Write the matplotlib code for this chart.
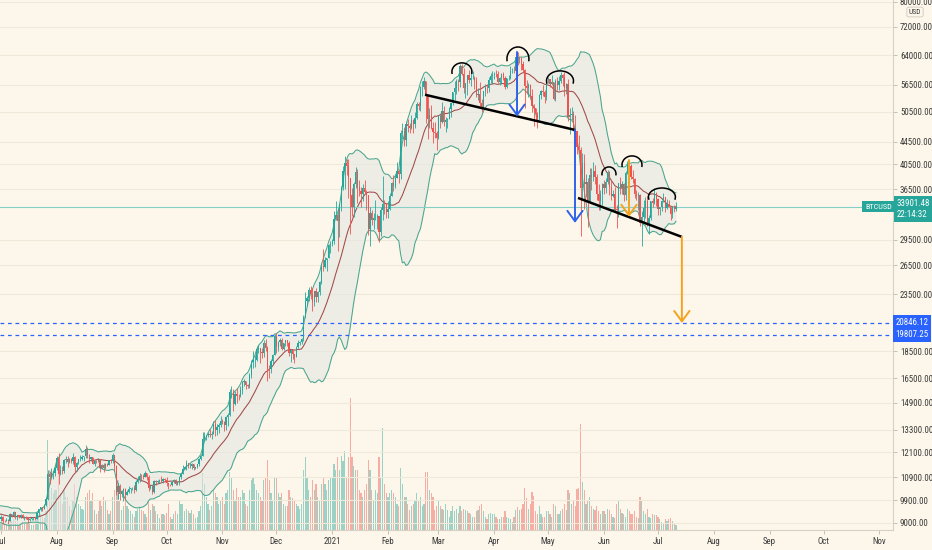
import numpy as np
import pandas as pd
import matplotlib
matplotlib.use('Agg')
import matplotlib.pyplot as plt
import matplotlib.transforms as mtransforms
from matplotlib import font_manager as fm
from matplotlib.patches import Arc
from matplotlib.ticker import FixedLocator, NullLocator, FuncFormatter

# ---------------- data (BTCUSD daily) ----------------
start_date = '2020-06-01'
first_open = 9450

close = [
    10200, 9520, 9660, 9800, 9650, 9760, 9770, 9780, 9770, 9880, 9320, 9480, 9470, 9390, 9430, 9520, 9460, 9380, 9300, 9360, 9300, 9650, 9620, 9290, 9240, 9160, 9010, 9110, 9190, 9140,
    9230, 9090, 9070, 9130, 9070, 9340, 9250, 9430, 9230, 9290, 9240, 9300, 9240, 9240, 9190, 9130, 9150, 9170, 9210, 9160, 9390, 9540, 9610, 9550, 9710, 9930, 11030, 10910, 11100, 11110, 11350,
    11800, 11070, 11230, 11190, 11740, 11760, 11600, 11750, 11680, 11880, 11400, 11580, 11770, 11770, 11870, 11910, 12290, 11960, 11760, 11860, 11520, 11680, 11650, 11760, 11330, 11470, 11320, 11540, 11480, 11710, 11680,
    11970, 11410, 10230, 10510, 10170, 10280, 10370, 10130, 10240, 10370, 10400, 10440, 10330, 10680, 10790, 10950, 10940, 10930, 11080, 10920, 10420, 10530, 10240, 10740, 10690, 10730, 10770, 10710, 10840, 10780,
    10620, 10570, 10550, 10670, 10790, 10600, 10670, 10920, 11060, 11300, 11380, 11550, 11430, 11430, 11500, 11330, 11370, 11500, 11750, 11920, 12820, 12970, 13030, 13080, 13030, 13080, 13650, 13270, 13460, 13560, 13800,
    13740, 13550, 14020, 14150, 15590, 15590, 14840, 15480, 15330, 15300, 15700, 16280, 16320, 16070, 15960, 16720, 17650, 17800, 17820, 18680, 18720, 18420, 18370, 19160, 18720, 17150, 17140, 17720, 18180, 19700,
    18790, 19220, 19420, 18650, 19150, 19360, 19170, 18320, 18550, 18260, 18040, 18800, 19140, 19250, 19440, 21310, 22800, 23140, 23870, 23480, 22750, 23830, 23240, 23730, 24710, 26440, 26280, 27080, 27360, 28840, 29000,
    29370, 32130, 32780, 31970, 34000, 36820, 39370, 40670, 40240, 38240, 35540, 33910, 37320, 39190, 36830, 36180, 35790, 36630, 36070, 35550, 30820, 33010, 32080, 32260, 32370, 32570, 30430, 33470, 34320, 34270, 33110,
    33540, 35510, 37470, 36930, 38300, 39320, 38900, 46200, 46480, 44920, 47910, 47500, 47100, 48720, 47950, 49140, 52150, 51680, 55890, 55890, 57410, 54100, 48890, 49680, 47060, 46340, 46190, 45140,
    49630, 48380, 50540, 48380, 48760, 48880, 50970, 52380, 54880, 55860, 57330, 57200, 61190, 59000, 55640, 56950, 58920, 57650, 58030, 58100, 57350, 54080, 54340, 52300, 51290, 55030, 55850, 55780, 57630, 58730, 58920,
    59060, 59000, 57160, 58190, 59130, 58060, 56000, 58090, 58090, 59800, 59890, 59800, 63500, 63110, 63310, 61570, 60110, 56270, 55710, 56470, 53830, 51700, 51160, 50100, 49120, 54080, 55040, 54840, 53580, 57750,
    57830, 56630, 57200, 53330, 57520, 56460, 57340, 58800, 58230, 55860, 56680, 49400, 49720, 49920, 46760, 46460, 43540, 42900, 36700, 40780, 37300, 37540, 34700, 38710, 38400, 39290, 38440, 35690, 34650, 35680, 37330,
    36690, 37570, 39190, 36880, 35520, 35800, 33570, 33380, 37390, 36700, 37330, 35550, 39100, 40520, 40140, 38350, 38050, 35790, 35480, 35600, 31680, 32510, 33690, 34660, 31590, 32280, 34660, 34470, 35870, 35040,
    33540, 33830, 34670, 35290, 33690, 34230, 33860, 32880, 33810, 33520, 33901.48,
]

high = [
    10400, 10230, 9690, 9880, 9850, 9800, 9800, 9800, 9880, 9990, 9940, 9560, 9490, 9480, 9530, 9580, 9550, 9480, 9420, 9390, 9420, 9690, 9680, 9660, 9320, 9290, 9200, 9190, 9230, 9200,
    9290, 9260, 9130, 9200, 9140, 9370, 9360, 9450, 9440, 9310, 9300, 9340, 9340, 9280, 9270, 9210, 9180, 9200, 9230, 9220, 9420, 9550, 9640, 9630, 9740, 10030, 11250, 11200, 11340, 11170, 11450,
    11900, 12070, 11480, 11420, 11780, 11900, 11900, 11800, 11800, 12080, 11940, 11620, 11790, 11980, 11970, 11930, 12470, 12350, 12020, 11880, 11880, 11700, 11710, 11810, 11780, 11520, 11590, 11550, 11570, 11710, 11770,
    12070, 11970, 11460, 10630, 10580, 10340, 10400, 10440, 10350, 10500, 10410, 10470, 10550, 10790, 10940, 11080, 11040, 11030, 11180, 11080, 10990, 10570, 10540, 10770, 10780, 10770, 10800, 10950, 10860, 10850,
    10910, 10650, 10600, 10690, 10800, 10800, 10690, 10950, 11110, 11490, 11420, 11720, 11560, 11550, 11550, 11540, 11400, 11520, 11820, 12000, 13200, 13180, 13030, 13170, 13350, 13240, 13790, 13850, 13640, 13660, 14100,
    13900, 13820, 14070, 14240, 15760, 15960, 15770, 15660, 15850, 15450, 15950, 16330, 16480, 16330, 16130, 16880, 17850, 18480, 18180, 18810, 18960, 18750, 18770, 19420, 19480, 18900, 17450, 17880, 18280, 19880,
    19920, 19310, 19560, 19510, 19170, 19400, 19400, 19280, 18640, 18570, 18280, 18930, 19410, 19330, 19560, 21540, 23750, 23270, 24170, 24300, 24100, 23840, 24100, 23790, 24790, 26720, 28420, 27410, 27370, 28990, 29300,
    29600, 33300, 34780, 33600, 34440, 36940, 40180, 41950, 41350, 41350, 38260, 36600, 37600, 40100, 39740, 37950, 36800, 37300, 37850, 36400, 35600, 33820, 33450, 32940, 34880, 32930, 32600, 33780, 38530, 34900, 34300,
    34700, 35970, 37650, 38670, 38700, 40950, 39630, 46750, 48200, 47300, 48630, 48900, 48100, 49700, 49000, 50500, 52600, 52500, 56300, 57500, 58300, 57500, 54200, 51300, 52000, 48300, 48300, 46600,
    49770, 50100, 52600, 51700, 49400, 49200, 51400, 52400, 54900, 57400, 58000, 57900, 61700, 61600, 60600, 56900, 58900, 60000, 59400, 59900, 58600, 58400, 55800, 57200, 53200, 55100, 56600, 56600, 58400, 59400, 59800,
    59500, 60100, 59800, 58500, 59300, 59500, 58600, 58200, 58900, 61200, 60700, 61200, 63800, 64900, 63800, 63600, 62500, 60400, 57600, 57000, 56800, 55500, 52100, 51200, 50500, 54300, 55400, 56400, 55200, 57900,
    58400, 57900, 58900, 57200, 57900, 58300, 58600, 59500, 59200, 59500, 56900, 58000, 51300, 51500, 50600, 49700, 46600, 45800, 43500, 42400, 42200, 38800, 38300, 39800, 39800, 40800, 40400, 38800, 37300, 36400, 37500,
    37900, 38200, 39500, 39300, 37900, 36400, 36800, 34100, 37500, 38400, 37700, 37400, 39300, 41000, 41300, 40500, 39500, 38200, 36400, 36100, 35700, 33300, 34800, 35300, 35500, 32700, 34700, 35200, 36600, 36000,
    35100, 33900, 34900, 35900, 35300, 35000, 34900, 33900, 34000, 34200, 34600,
]

low = [
    9420, 9270, 9390, 9530, 9590, 9610, 9380, 9640, 9570, 9710, 9080, 9250, 9340, 9250, 8980, 9400, 9280, 9260, 9210, 9200, 9270, 9280, 9570, 9200, 9000, 9040, 8850, 8950, 9020, 9080,
    9090, 8950, 9040, 9060, 8950, 9060, 9210, 9240, 9150, 9120, 9200, 9170, 9200, 9120, 9160, 9010, 9090, 9130, 9120, 9130, 9150, 9280, 9470, 9480, 9540, 9650, 9920, 10600, 10860, 10840, 10980,
    11220, 10600, 11000, 11050, 11100, 11580, 11400, 11550, 11570, 11530, 11150, 11170, 11510, 11690, 11700, 11690, 11830, 11820, 11570, 11680, 11510, 11430, 11560, 11600, 11140, 11270, 11160, 11290, 11440, 11460, 11590,
    11550, 11200, 10100, 9970, 9890, 10020, 9880, 9900, 10100, 10200, 10200, 10330, 10220, 10270, 10640, 10700, 10750, 10830, 10890, 10780, 10300, 10360, 10140, 10200, 10560, 10650, 10630, 10680, 10650, 10700,
    10520, 10380, 10500, 10520, 10630, 10540, 10570, 10540, 10820, 11050, 11280, 11220, 11330, 11310, 11300, 11220, 11300, 11350, 11420, 11700, 11900, 12700, 12750, 12900, 12900, 12800, 13050, 12950, 12990, 13140, 13430,
    13620, 13230, 13290, 13530, 14100, 15200, 14420, 14740, 14850, 15100, 15280, 15450, 15980, 15800, 15860, 15880, 16560, 17200, 17340, 17750, 18370, 17620, 18000, 18030, 18530, 16330, 16500, 16900, 17550, 18170,
    18330, 18500, 18930, 18580, 18550, 18900, 18900, 18150, 17650, 17930, 17570, 18020, 18720, 19000, 19060, 19300, 21250, 22350, 22800, 23050, 21900, 22380, 22700, 22720, 23450, 24520, 25900, 26260, 25900, 27330, 27860,
    28800, 28950, 32000, 28130, 29900, 33300, 36340, 36570, 38730, 35110, 30260, 32530, 32400, 36700, 34400, 35400, 33850, 34730, 35850, 33400, 30070, 28800, 31400, 30850, 32080, 30840, 29240, 30000, 32000, 32850, 32300,
    32300, 33420, 35380, 36200, 36630, 38200, 37400, 37990, 45000, 43800, 43780, 46300, 46200, 47000, 46200, 47100, 48950, 50900, 50700, 53900, 55500, 48100, 45000, 47100, 46900, 44200, 45200, 43000,
    45050, 47200, 48200, 47600, 46300, 47100, 48900, 49300, 51900, 53100, 54300, 55100, 56100, 58900, 54600, 53500, 54100, 57000, 56300, 57800, 55500, 53700, 53000, 51700, 50400, 51300, 53900, 54700, 54900, 57000, 56800,
    57900, 58500, 57000, 56500, 56800, 57700, 55500, 55800, 57700, 57900, 59300, 59400, 59800, 61300, 62000, 60000, 59700, 51300, 54300, 53600, 53700, 50500, 47500, 48800, 47100, 48800, 53300, 53900, 52400, 53100,
    57000, 56000, 56500, 53100, 52900, 55200, 55400, 56900, 56300, 54000, 54400, 48600, 46000, 48800, 46600, 43900, 42200, 42300, 30000, 35000, 33500, 35300, 31100, 34500, 36400, 37800, 37200, 34800, 33400, 33400, 34200,
    35700, 35900, 37200, 35600, 34800, 35300, 33400, 31000, 32400, 35800, 35700, 34700, 34800, 38800, 39500, 38100, 37400, 35200, 34900, 33400, 31300, 28800, 31700, 32300, 31300, 30200, 32000, 33900, 34300, 34000,
    32700, 32700, 33300, 34500, 33200, 33600, 33800, 32100, 32300, 33100, 33300,
]

volume = [
    10, 14, 9, 8, 7, 6, 5, 6, 7, 9, 14, 9, 6, 6, 10, 8, 7, 7, 7, 5, 5, 9, 8, 9, 8, 8, 7, 6, 6, 7,
    6, 7, 5, 4, 4, 9, 7, 8, 7, 6, 4, 4, 6, 6, 6, 6, 5, 4, 4, 5, 10, 11, 12, 10, 9, 14, 68, 45, 32, 28, 30,
    30, 45, 28, 20, 30, 25, 25, 18, 15, 22, 35, 25, 20, 18, 16, 15, 25, 28, 30, 22, 28, 15, 12, 14, 22, 18, 25, 22, 15, 12, 14,
    25, 30, 40, 38, 22, 15, 18, 22, 18, 16, 14, 12, 10, 14, 16, 18, 15, 14, 12, 10, 22, 15, 20, 18, 14, 12, 9, 12, 12, 11,
    13, 20, 10, 8, 12, 14, 12, 22, 20, 20, 14, 16, 14, 13, 15, 12, 9, 10, 14, 18, 43, 35, 25, 20, 15, 18, 30, 28, 25, 20, 22,
    25, 20, 28, 30, 44, 40, 30, 22, 32, 25, 25, 30, 28, 20, 18, 30, 38, 40, 35, 30, 28, 25, 22, 38, 40, 53, 38, 28, 22, 40,
    40, 28, 25, 28, 20, 18, 18, 30, 25, 24, 22, 20, 18, 16, 20, 45, 55, 40, 30, 25, 38, 30, 35, 25, 22, 35, 40, 35, 30, 38, 40,
    40, 50, 45, 55, 45, 56, 52, 60, 40, 55, 100, 55, 48, 45, 45, 30, 28, 25, 30, 35, 53, 45, 30, 22, 30, 28, 55, 40, 77, 35, 28,
    25, 28, 30, 28, 25, 20, 18, 47, 35, 25, 25, 20, 15, 18, 20, 22, 28, 22, 25, 18, 20, 44, 44, 30, 28, 25, 15, 18,
    22, 18, 16, 15, 20, 15, 10, 14, 18, 14, 16, 13, 18, 14, 16, 15, 14, 13, 12, 10, 10, 14, 15, 18, 20, 14, 10, 8, 12, 13, 12,
    12, 10, 8, 8, 10, 10, 14, 10, 9, 8, 6, 10, 15, 17, 15, 16, 20, 32, 24, 16, 20, 29, 26, 14, 12, 18, 12, 10, 10, 14,
    14, 12, 10, 20, 18, 12, 12, 14, 16, 20, 15, 30, 28, 20, 22, 18, 31, 32, 80, 36, 30, 20, 22, 25, 18, 16, 15, 18, 14, 12, 14,
    14, 12, 16, 15, 12, 10, 9, 20, 23, 16, 13, 12, 10, 16, 14, 12, 12, 14, 10, 9, 25, 22, 14, 12, 16, 10, 9, 12, 11, 11,
    10, 8, 6, 5, 8, 7, 8, 9, 7, 5, 4,
]

price_ticks = [80000, 72000, 64000, 56500, 50500, 44500, 40500, 36500, 29500, 26500,
               23500, 18500, 16500, 14900, 13300, 12100, 10900, 9900, 9000]
month_starts = ['2020-07-01', '2020-08-01', '2020-09-01', '2020-10-01', '2020-11-01', '2020-12-01',
                '2021-01-01', '2021-02-01', '2021-03-01', '2021-04-01', '2021-05-01', '2021-06-01',
                '2021-07-01', '2021-08-01', '2021-09-01', '2021-10-01', '2021-11-01']
month_labels = ['Jul', 'Aug', 'Sep', 'Oct', 'Nov', 'Dec', '2021', 'Feb', 'Mar', 'Apr', 'May', 'Jun',
                'Jul', 'Aug', 'Sep', 'Oct', 'Nov']

last_price = 33901.48
countdown = '22:14:32'
level_prices = [20846.12, 19807.25]

# drawn annotations
neck1_dates = ['2021-02-21 14:00', '2021-05-15 22:00']
neck1_prices = [54200, 46760]
neck2_dates = ['2021-05-17 14:00', '2021-07-14 07:00']
neck2_prices = [35160, 29860]
blue_arrow_dates = ['2021-04-13 17:00', '2021-05-15 22:00']
blue_arrow_from = [64840, 46760]
blue_arrow_to = [49460, 31670]
orange_arrow_dates = ['2021-06-14 22:00', '2021-07-14 07:00']
orange_arrow_from = [41220, 29860]
orange_arrow_to = [32480, 20810]
cap_dates = ['2021-03-14 02:00', '2021-04-14 05:00', '2021-05-07 14:00',
             '2021-06-03 19:00', '2021-06-16 14:00', '2021-07-03 05:00']
cap_prices = [59650, 62960, 57440, 38880, 40380, 35300]
cap_w_px = [20, 22, 27, 14, 20, 27]
cap_h_px = [9, 12, 10, 7, 9, 9]

# ---------------- styling ----------------
BG = '#fcf7ea'
TEAL = '#26a69a'
RED = '#ef5350'
BLUE = '#2962ff'
ORANGE = '#f5a21f'
GRID = '#efe9d9'
TXT = '#3a3a3a'


def pick_font():
    entries = fm.fontManager.ttflist
    prefs = ['Liberation Sans Narrow', 'Roboto Condensed', 'DejaVu Sans Condensed',
             'Open Sans Condensed', 'Noto Sans Condensed']
    for want in prefs:
        for f in entries:
            if f.name == want and 'Bold' not in f.fname and 'Italic' not in f.fname \
                    and 'Oblique' not in f.fname:
                return f.fname
    for f in entries:
        fn = f.fname
        if ('Condensed' in fn or 'Narrow' in fn) and 'Bold' not in fn and 'Italic' not in fn \
                and 'Oblique' not in fn and 'Light' not in fn and 'Semi' not in fn:
            return fn
    return None


narrow = pick_font()
if narrow:
    FS = 6.4
    def fp(size=FS, bold=False):
        return fm.FontProperties(fname=narrow, size=size, weight='bold' if bold else 'normal')
else:
    FS = 5.1
    def fp(size=FS, bold=False):
        return fm.FontProperties(family='DejaVu Sans', size=size,
                                 weight='bold' if bold else 'normal')

t0 = pd.Timestamp('2020-07-01')


def to_x(d):
    return (pd.Timestamp(d) - t0) / pd.Timedelta(days=1)


c = np.array(close, dtype=float)
h = np.array(high, dtype=float)
lo = np.array(low, dtype=float)
v = np.array(volume, dtype=float)
o = np.concatenate([[first_open], c[:-1]])
dates = pd.date_range(start_date, periods=len(c), freq='D')
xs = np.array([to_x(d) for d in dates])

s = pd.Series(c)
basis = s.rolling(20).mean().to_numpy()
dev = s.rolling(20).std(ddof=0).to_numpy()
upper = basis + 2 * dev
lower = basis - 2 * dev

fig = plt.figure(figsize=(9.32, 5.50), dpi=100, facecolor=BG)
rect = [0, 20 / 550, 893 / 932, 530 / 550]
ax_v = fig.add_axes(rect, zorder=0)
ax = fig.add_axes(rect, zorder=1)
ax.patch.set_visible(False)
ax_v.set_facecolor(BG)

XL = (-0.56, 495.6)
YL = (8737, 80630)

# volume
up = c >= o
vcol = [TEAL if u else RED for u in up]
ax_v.bar(xs, v, width=0.66, color=vcol, alpha=0.45, linewidth=0)
ax_v.set_xlim(*XL)
ax_v.set_ylim(0, 400)
ax_v.axis('off')

# price
ax.set_yscale('log')
ax.set_xlim(*XL)
ax.set_ylim(*YL)
ax.set_autoscale_on(False)

for p in price_ticks:
    ax.axhline(p, color=GRID, lw=0.8, zorder=0)

m = ~np.isnan(basis)
ax.fill_between(xs[m], lower[m], upper[m], color='#e4e6e2', alpha=0.55, lw=0, zorder=1)
ax.plot(xs[m], upper[m], color='#4aa58f', lw=0.75, zorder=2)
ax.plot(xs[m], lower[m], color='#4aa58f', lw=0.75, zorder=2)
ax.plot(xs[m], basis[m], color='#a04a48', lw=0.75, zorder=2)

ax.vlines(xs, lo, h, colors=vcol, lw=0.6, zorder=3)
ax.bar(xs, np.maximum(np.abs(c - o), 1e-9), bottom=np.minimum(o, c), width=0.66,
       color=vcol, linewidth=0, zorder=4)

# horizontal levels
ax.axhline(last_price, color='#86cfc6', lw=0.8, zorder=2)
for lp in level_prices:
    ax.axhline(lp, color=BLUE, lw=0.9, ls=(0, (3, 3)), zorder=2)

# necklines
ax.plot([to_x(d) for d in neck1_dates], neck1_prices, color='black', lw=1.8, zorder=6,
        solid_capstyle='butt')
ax.plot([to_x(d) for d in neck2_dates], neck2_prices, color='black', lw=1.8, zorder=6,
        solid_capstyle='butt')


# arrows
def varrow(d, p0, p1, col):
    x = to_x(d)
    ax.annotate('', xy=(x, p1), xytext=(x, p0),
                arrowprops=dict(arrowstyle='->,head_length=0.75,head_width=0.55',
                                color=col, lw=1.4, shrinkA=0, shrinkB=0,
                                mutation_scale=10), zorder=7)


for d, p0, p1 in zip(blue_arrow_dates, blue_arrow_from, blue_arrow_to):
    varrow(d, p0, p1, '#2f62ea')
for d, p0, p1 in zip(orange_arrow_dates, orange_arrow_from, orange_arrow_to):
    varrow(d, p0, p1, ORANGE)

# caps (arcs) over the tops
for d, p, w, hh in zip(cap_dates, cap_prices, cap_w_px, cap_h_px):
    trans = fig.dpi_scale_trans + mtransforms.ScaledTranslation(to_x(d), p, ax.transData)
    arc = Arc((0, 0), w / 100, 2 * hh / 100, theta1=-12, theta2=192,
              transform=trans, color='black', lw=1.1, zorder=7)
    ax.add_artist(arc)

# axes styling
for sp in ['top', 'left']:
    ax.spines[sp].set_visible(False)
for sp in ['right', 'bottom']:
    ax.spines[sp].set_color('#d6d1c2')
    ax.spines[sp].set_linewidth(0.8)

ax.yaxis.tick_right()
ax.yaxis.set_major_locator(FixedLocator(price_ticks))
ax.yaxis.set_minor_locator(NullLocator())
ax.yaxis.set_major_formatter(FuncFormatter(lambda val, pos: f'{val:.2f}'))
ax.tick_params(axis='y', which='major', length=3, width=0.6, color='#bdb8aa', pad=2,
               labelcolor=TXT)

ax.xaxis.set_major_locator(FixedLocator([to_x(d) for d in month_starts]))
ax.xaxis.set_minor_locator(NullLocator())
ax.set_xticklabels(month_labels)
ax.tick_params(axis='x', which='major', length=3, width=0.6, color='#bdb8aa', pad=2,
               labelcolor=TXT)
for lab in ax.get_yticklabels():
    lab.set_fontproperties(fp())
for lab in ax.get_xticklabels():
    lab.set_fontproperties(fp(bold=(lab.get_text() == '2021')))

blend = mtransforms.blended_transform_factory(ax.transAxes, ax.transData)

ax.text(0.9985, last_price, 'BTCUSD', transform=blend, ha='right', va='center',
        fontproperties=fp(FS * 0.92), color='white', zorder=8,
        bbox=dict(boxstyle='square,pad=0.3', fc=TEAL, ec='none'))
ax.annotate(f'{last_price:.2f}\n{countdown}', xy=(1.0, last_price), xycoords=blend,
            xytext=(2.5, 5.4), textcoords='offset points', ha='left', va='top',
            fontproperties=fp(), color='white', linespacing=1.25, annotation_clip=False,
            bbox=dict(boxstyle='square,pad=0.32', fc=TEAL, ec='none'))
for lp in level_prices:
    ax.text(1.003, lp, f'{lp:.2f}', transform=blend, ha='left', va='center',
            fontproperties=fp(), color='white', clip_on=False,
            bbox=dict(boxstyle='square,pad=0.3', fc=BLUE, ec='none'))

fig.text(915 / 932, 1 - 12 / 550, 'USD', ha='center', va='center',
         fontproperties=fp(FS * 0.85), color=TXT,
         bbox=dict(boxstyle='round,pad=0.25', fc=BG, ec='#cfcac0', lw=0.6))

fig.savefig('out.png', dpi=100, facecolor=BG)
